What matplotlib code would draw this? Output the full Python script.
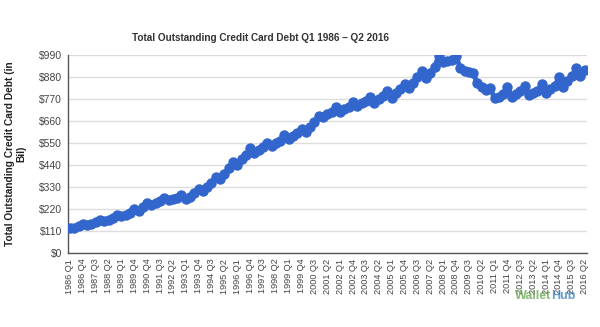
import matplotlib
matplotlib.use("Agg")
import matplotlib.pyplot as plt
import numpy as np

plt.rcParams['font.family'] = ['Liberation Sans', 'DejaVu Sans']

# quarterly credit card debt in $ billions (1990 Q2 not in the source data)
years = ['1986'] * 4 + ['1987'] * 4 + ['1988'] * 4 + ['1989'] * 4 + ['1990'] * 3
quarters = ['Q1', 'Q2', 'Q3', 'Q4'] * 4 + ['Q1', 'Q3', 'Q4']
for y in range(1991, 2016):
    years += [str(y)] * 4
    quarters += ['Q1', 'Q2', 'Q3', 'Q4']
years += ['2016', '2016']
quarters += ['Q1', 'Q2']
labels = [y + ' ' + q for y, q in zip(years, quarters)]

debt = [
    123, 127, 133, 146,   # 1986
    138, 145, 153, 166,   # 1987
    158, 166, 175, 192,   # 1988
    183, 192, 202, 220,   # 1989
    212, 230, 248,        # 1990
    240, 250, 260, 276,   # 1991
    265, 270, 276, 290,   # 1992
    268, 282, 302, 322,   # 1993
    310, 330, 352, 382,   # 1994
    370, 395, 425, 457,   # 1995
    442, 470, 492, 523,   # 1996
    500, 515, 530, 552,   # 1997
    535, 548, 562, 588,   # 1998
    568, 585, 600, 620,   # 1999
    607, 632, 655, 685,   # 2000
    680, 695, 705, 730,   # 2001
    705, 718, 732, 757,   # 2002
    735, 748, 762, 782,   # 2003
    752, 770, 787, 812,   # 2004
    775, 800, 818, 843,   # 2005
    825, 850, 878, 910,   # 2006
    873, 900, 932, 985,   # 2007
    955, 960, 965, 987,   # 2008
    923, 910, 903, 898,   # 2009
    848, 832, 815, 823,   # 2010
    773, 780, 795, 830,   # 2011
    782, 795, 808, 835,   # 2012
    790, 800, 812, 845,   # 2013
    802, 818, 835, 878,   # 2014
    830, 860, 885, 923,   # 2015
    885, 915,             # 2016
]

yticks = list(range(0, 991, 110))

fig = plt.figure(figsize=(6, 3.27), dpi=100)
ax = fig.add_axes([0.113, 0.226, 0.865, 0.606])

x = np.arange(len(debt))
ax.plot(x, debt, color='#3366cc', linewidth=3.5, marker='o', markersize=6.5,
        solid_capstyle='round', zorder=3)

ax.set_ylim(0, 990)
ax.set_xlim(-0.5, len(debt) - 0.5)
ax.set_yticks(yticks)
ax.set_yticklabels(['$' + str(v) for v in yticks], fontsize=7.5, color='#444444')
ax.set_xticks(x[::3])
ax.set_xticklabels(labels[::3], rotation=90, fontsize=6.6, color='#444444')
ax.tick_params(length=0, pad=4)
ax.grid(axis='y', color='#dddddd', linewidth=1)
ax.set_axisbelow(True)
for s in ['top', 'right']:
    ax.spines[s].set_visible(False)
for s in ['left', 'bottom']:
    ax.spines[s].set_color('#555555')
    ax.spines[s].set_linewidth(1)

ax.set_ylabel('Total Outstanding Credit Card Debt (in\nBil)', fontsize=7.3,
              fontweight='bold', color='#222222', linespacing=1.15, labelpad=9)

fig.text(0.435, 0.885, 'Total Outstanding Credit Card Debt Q1 1986 \u2013 Q2 2016',
         ha='center', va='center', fontsize=7.2, fontweight='bold', color='#333333')

# watermark
fig.text(0.918, 0.095, 'Wallet', ha='right', va='center', fontsize=9,
         fontweight='bold', color='#6aa84f', alpha=0.8)
fig.text(0.918, 0.095, 'Hub', ha='left', va='center', fontsize=9,
         fontweight='bold', color='#3d85c6', alpha=0.8)

plt.savefig('out.png', dpi=100)
